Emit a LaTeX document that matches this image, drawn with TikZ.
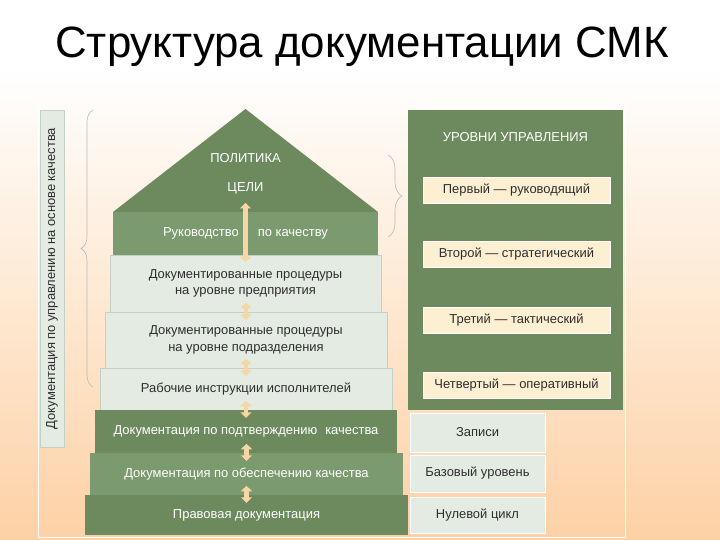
\documentclass[tikz,border=0pt]{standalone}
\usepackage{fontspec}
\setmainfont{Liberation Sans}
\usepackage{tikz}
\usetikzlibrary{arrows.meta,decorations.pathreplacing}

\definecolor{darkgreen}{HTML}{6D8A5F}
\definecolor{midgreen}{HTML}{7C9A6F}
\definecolor{stepgray}{HTML}{E3EBE2}
\definecolor{stepedge}{HTML}{C5D0C4}
\definecolor{cream}{HTML}{FDEFD2}
\definecolor{peach}{HTML}{FDD1A5}
\definecolor{arrowcream}{HTML}{F5D6A4}
\definecolor{darktext}{HTML}{2E2E2E}

\begin{document}
\begin{tikzpicture}[
        x=1bp, y=-1bp,
        every node/.style={font={\fontsize{13}{16.5}\selectfont}, inner sep=0pt},
        stepbox/.style={draw=stepedge, fill=stepgray, text=darktext, align=center},
        greenbox/.style={fill=darkgreen, text=white, align=center},
        levelbox/.style={draw=white, fill=cream, text=darktext, minimum width=187bp, minimum height=26bp},
        basebox/.style={draw=white, fill=stepgray, text=darktext, minimum width=135bp},
        dbl/.style={line width=4.5bp, draw=arrowcream,
            {Triangle[width=11bp,length=5.5bp]}-{Triangle[width=11bp,length=5.5bp]}},
        curly/.style={draw=gray!55, semithick, decorate, decoration={brace, amplitude=#1}},
    ]
        % --- page and background ---
        \useasboundingbox (0,0) rectangle (720,540);
        \fill[white] (0,0) rectangle (720,540);
        \shade[top color=white, bottom color=peach] (0,67) rectangle (720,540);
        \draw[white, thick] (38,103) rectangle (625,537);

        % --- title ---
        \node[font={\fontsize{44}{48}\selectfont}] (title) at (362,47) {Структура документации СМК};

        % --- side label and braces ---
        \node[draw=stepedge, fill=stepgray, text=darktext, rotate=90,
              minimum width=337bp, minimum height=24bp] (side) at (52,278.5)
              {Документация по управлению на основе качества};
        \draw[curly=12bp] (93,387) -- (93,110);
        \draw[curly=14bp] (388,155) -- (388,237);

        % --- roof ---
        \fill[darkgreen] (113,212) -- (245.5,109) -- (378,212) -- cycle;
        \node[text=white] (pol)  at (245.5,158) {ПОЛИТИКА};
        \node[text=white] (celi) at (245.5,188) {ЦЕЛИ};

        % --- pyramid steps ---
        \node[greenbox, fill=midgreen, minimum width=265bp, minimum height=43bp] (ruk) at (245.5,233.5)
              {Руководство\hspace{19bp}по качеству};
        \node[stepbox, minimum width=271bp, minimum height=57bp] (p1) at (245.5,283.5)
              {Документированные процедуры\\на уровне предприятия};
        \node[stepbox, minimum width=282bp, minimum height=56bp] (p2) at (246,340)
              {Документированные процедуры\\на уровне подразделения};
        \node[stepbox, minimum width=292bp, minimum height=42bp] (p3) at (246,389)
              {Рабочие инструкции исполнителей};
        \node[greenbox, minimum width=302bp, minimum height=43bp] (d1) at (246,431.5)
              {Документация по подтверждению\hspace{8bp}качества};
        \node[greenbox, fill=midgreen, minimum width=313bp, minimum height=42bp] (d2) at (246.5,474)
              {Документация по обеспечению качества};
        \node[greenbox, minimum width=323bp, minimum height=40bp] (d3) at (246.5,515)
              {Правовая документация};

        % --- arrows ---
        \draw[dbl] ([yshift=-9bp]celi.south) -- ([yshift=-7bp]ruk.south);
        \foreach \b in {p2,p3,d1,d2,d3}
            \draw[dbl] ([yshift=9bp]\b.north) -- ([yshift=-8bp]\b.north);

        % --- levels panel ---
        \node[fill=darkgreen, minimum width=215bp, minimum height=300bp] (panel) at (515.5,260) {};
        \node[text=white] (lvtitle) at (515.5,137) {УРОВНИ УПРАВЛЕНИЯ};
        \node[levelbox] (lv1) at (516.5,190)   {Первый — руководящий};
        \node[levelbox] (lv2) at (516.5,254.5) {Второй — стратегический};
        \node[levelbox] (lv3) at (516.5,320.5) {Третий — тактический};
        \node[levelbox] (lv4) at (516.5,385.5) {Четвертый — оперативный};

        % --- base boxes ---
        \node[basebox, minimum height=39bp] (rec)  at (477.5,432.5) {Записи};
        \node[basebox, minimum height=37bp] (base) at (477.5,473.5) {Базовый уровень};
        \node[basebox, minimum height=36bp] (zero) at (477.5,515)   {Нулевой цикл};
    \end{tikzpicture}
\end{document}
